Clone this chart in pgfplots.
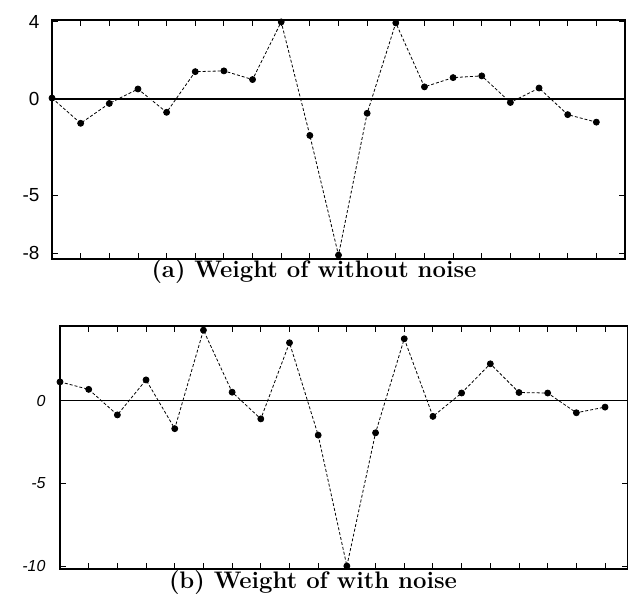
\documentclass[border=0pt]{standalone}
\usepackage{fontspec}
\usepackage{pgfplots}
\pgfplotsset{compat=1.18}
\newfontfamily\ticfont{Liberation Sans}

\pgfplotstableread{
x y
0 0.05
1 -1.26
2 -0.23
3 0.52
4 -0.69
5 1.42
6 1.46
7 1.01
8 4.0
9 -1.89
10 -8.1
11 -0.74
12 3.95
13 0.63
14 1.11
15 1.2
16 -0.18
17 0.57
18 -0.81
19 -1.2
}\nonoise

\pgfplotstableread{
x y
0 1.13
1 0.68
2 -0.86
3 1.25
4 -1.69
5 4.25
6 0.51
7 -1.1
8 3.49
9 -2.08
10 -9.97
11 -1.94
12 3.73
13 -0.95
14 0.46
15 2.22
16 0.49
17 0.46
18 -0.73
19 -0.39
}\withnoise

\pgfplotsset{
  panel/.style={
    scale only axis, anchor=south west,
    xmin=0, tick align=inside, major tick length=6bp,
    xtick={1,...,19}, xticklabels={},
    axis line style={line width=1.2bp},
    every tick/.style={black, line width=0.9bp},
    clip=false,
  },
  weights/.style={black, densely dashed, line width=0.8bp,
    mark=*, mark size=3bp, mark options={solid}},
  zeroline/.style={black, line width=1.5bp, no marks},
}

\begin{document}
\begin{tikzpicture}
\useasboundingbox (0,0) rectangle (628bp,598bp);

\begin{axis}[panel,
  at={(52bp,339bp)}, width=573bp, height=239bp,
  xmax=20, ymin=-8.3, ymax=4.1,
  ytick={-8,-5,0,4}, yticklabels={-8,-5,0,4},
  yticklabel style={font=\fontsize{19}{19}\ticfont, xshift=-9bp},
]
\addplot[zeroline] coordinates {(0,0) (20,0)};
\addplot[weights] table[x=x, y=y] {\nonoise};
\end{axis}
\node[font=\fontsize{24}{28}\selectfont\bfseries] at (314bp,326bp) {(a) Weight of without noise};

\begin{axis}[panel,
  at={(60bp,29bp)}, width=568bp, height=243bp,
  xmax=19.8, ymin=-10.15, ymax=4.5,
  ytick={-10,-5,0}, yticklabels={-10,-5,0},
  yticklabel style={font=\fontsize{16}{16}\ticfont\itshape, xshift=-11bp},
]
\addplot[zeroline] coordinates {(0,0) (19.8,0)};
\addplot[weights] table[x=x, y=y] {\withnoise};
\end{axis}
\node[font=\fontsize{24}{28}\selectfont\bfseries] at (313bp,15bp) {(b) Weight of with noise};
\end{tikzpicture}
\end{document}
